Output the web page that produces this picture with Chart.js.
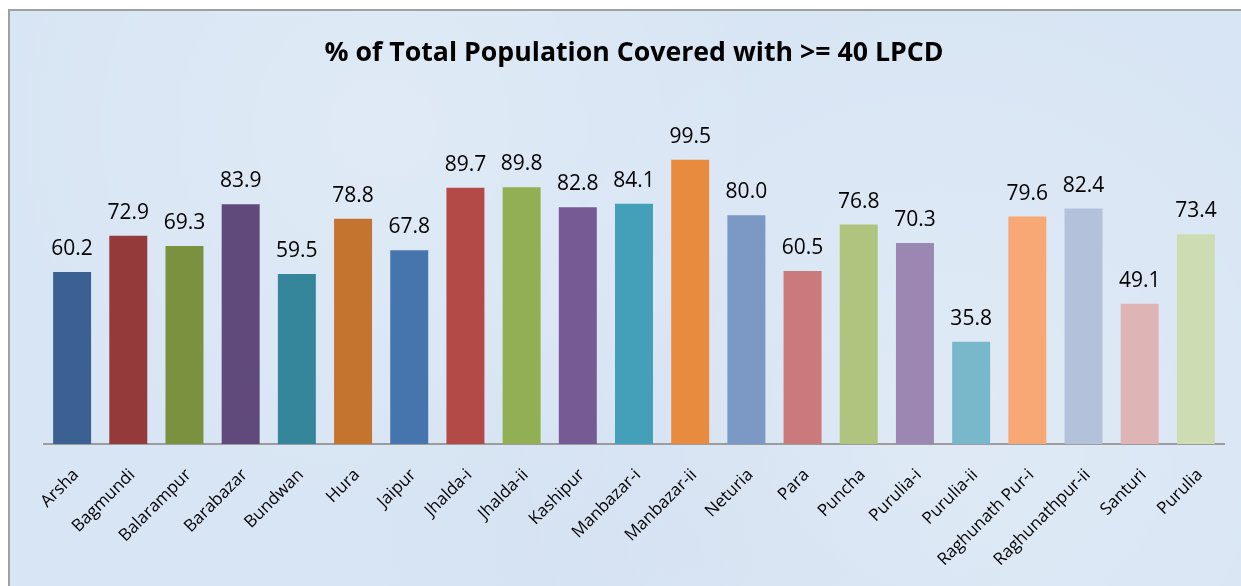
<!DOCTYPE html>
<html>
<head>
<meta charset="utf-8">
<script src="https://cdn.jsdelivr.net/npm/chart.js@4/dist/chart.umd.min.js"></script>
<style>
  html, body { margin:0; padding:0; background:#ffffff; width:1241px; height:586px; overflow:hidden; }
  #frame { position:absolute; left:8px; top:9px; width:1240px; height:584px;
    border:2px solid #a0a0a0;
    background-color:#d8e5f4;
    background-image:
      radial-gradient(circle at 30% 20%, rgba(255,255,255,0.2) 0, rgba(255,255,255,0) 40%),
      radial-gradient(circle at 75% 70%, rgba(255,255,255,0.2) 0, rgba(255,255,255,0) 45%),
      radial-gradient(circle at 55% 90%, rgba(200,215,235,0.3) 0, rgba(200,215,235,0) 40%);
  }
  #wrap { position:absolute; left:0; top:0; width:1241px; height:586px; }
</style>
</head>
<body>
<div id="frame"></div>
<div id="wrap"><canvas id="c" width="1241" height="586"></canvas></div>
<script>
const categories = ["Arsha","Bagmundi","Balarampur","Barabazar","Bundwan","Hura","Jaipur","Jhalda-i","Jhalda-ii","Kashipur","Manbazar-i","Manbazar-ii","Neturia","Para","Puncha","Purulia-i","Purulia-ii","Raghunath Pur-i","Raghunathpur-ii","Santuri","Purulia"];
const values = [60.2,72.9,69.3,83.9,59.5,78.8,67.8,89.7,89.8,82.8,84.1,99.5,80.0,60.5,76.8,70.3,35.8,79.6,82.4,49.1,73.4];
const barColors = ["#3A6192","#953A3A","#7A9240","#604A7B","#35869A","#C4742F","#4674AC","#B34A48","#92B053","#765A94","#44A0B8","#E98B3F","#7C98C4","#CA7A7A","#AEC47F","#9B87B1","#79B7CB","#F7A874","#B3C1DB","#DFB4B4","#CEDCB3"];
const titleText = "% of Total Population Covered with >= 40 LPCD";

const valueLabels = {
  id: 'valueLabels',
  afterDatasetsDraw(chart) {
    const ctx = chart.ctx;
    const meta = chart.getDatasetMeta(0);
    ctx.save();
    ctx.font = '21px "Open Sans"';
    ctx.fillStyle = '#000000';
    ctx.textAlign = 'center';
    ctx.textBaseline = 'alphabetic';
    meta.data.forEach((bar, i) => {
      ctx.fillText(values[i].toFixed(1), bar.x, bar.y - 17);
    });
    ctx.restore();
  }
};

new Chart(document.getElementById('c'), {
  type: 'bar',
  data: {
    labels: categories,
    datasets: [{
      data: values,
      backgroundColor: barColors,
      borderWidth: 0,
      barPercentage: 0.676,
      categoryPercentage: 1.0
    }]
  },
  options: {
    responsive: false,
    animation: false,
    layout: { padding: { left: 44, right: 17, top: 0, bottom: 0 } },
    plugins: {
      legend: { display: false },
      tooltip: { enabled: false },
      title: {
        display: true,
        text: titleText,
        color: '#000000',
        font: { family: '"Open Sans"', size: 26.7, weight: 'bold', lineHeight: 1.2 },
        padding: { top: 37, bottom: 32 }
      }
    },
    scales: {
      x: {
        grid: { display: false },
        border: { display: true, color: '#9c9c9c', width: 2 },
        ticks: {
          autoSkip: false,
          minRotation: 45,
          maxRotation: 45,
          color: '#000000',
          padding: 13,
          labelOffset: 4,
          font: { family: '"Open Sans"', size: 17 }
        },
        afterFit(scale) { scale.height = 142; }
      },
      y: {
        display: false,
        min: 0,
        max: 120
      }
    }
  },
  plugins: [valueLabels]
});
</script>
</body>
</html>
